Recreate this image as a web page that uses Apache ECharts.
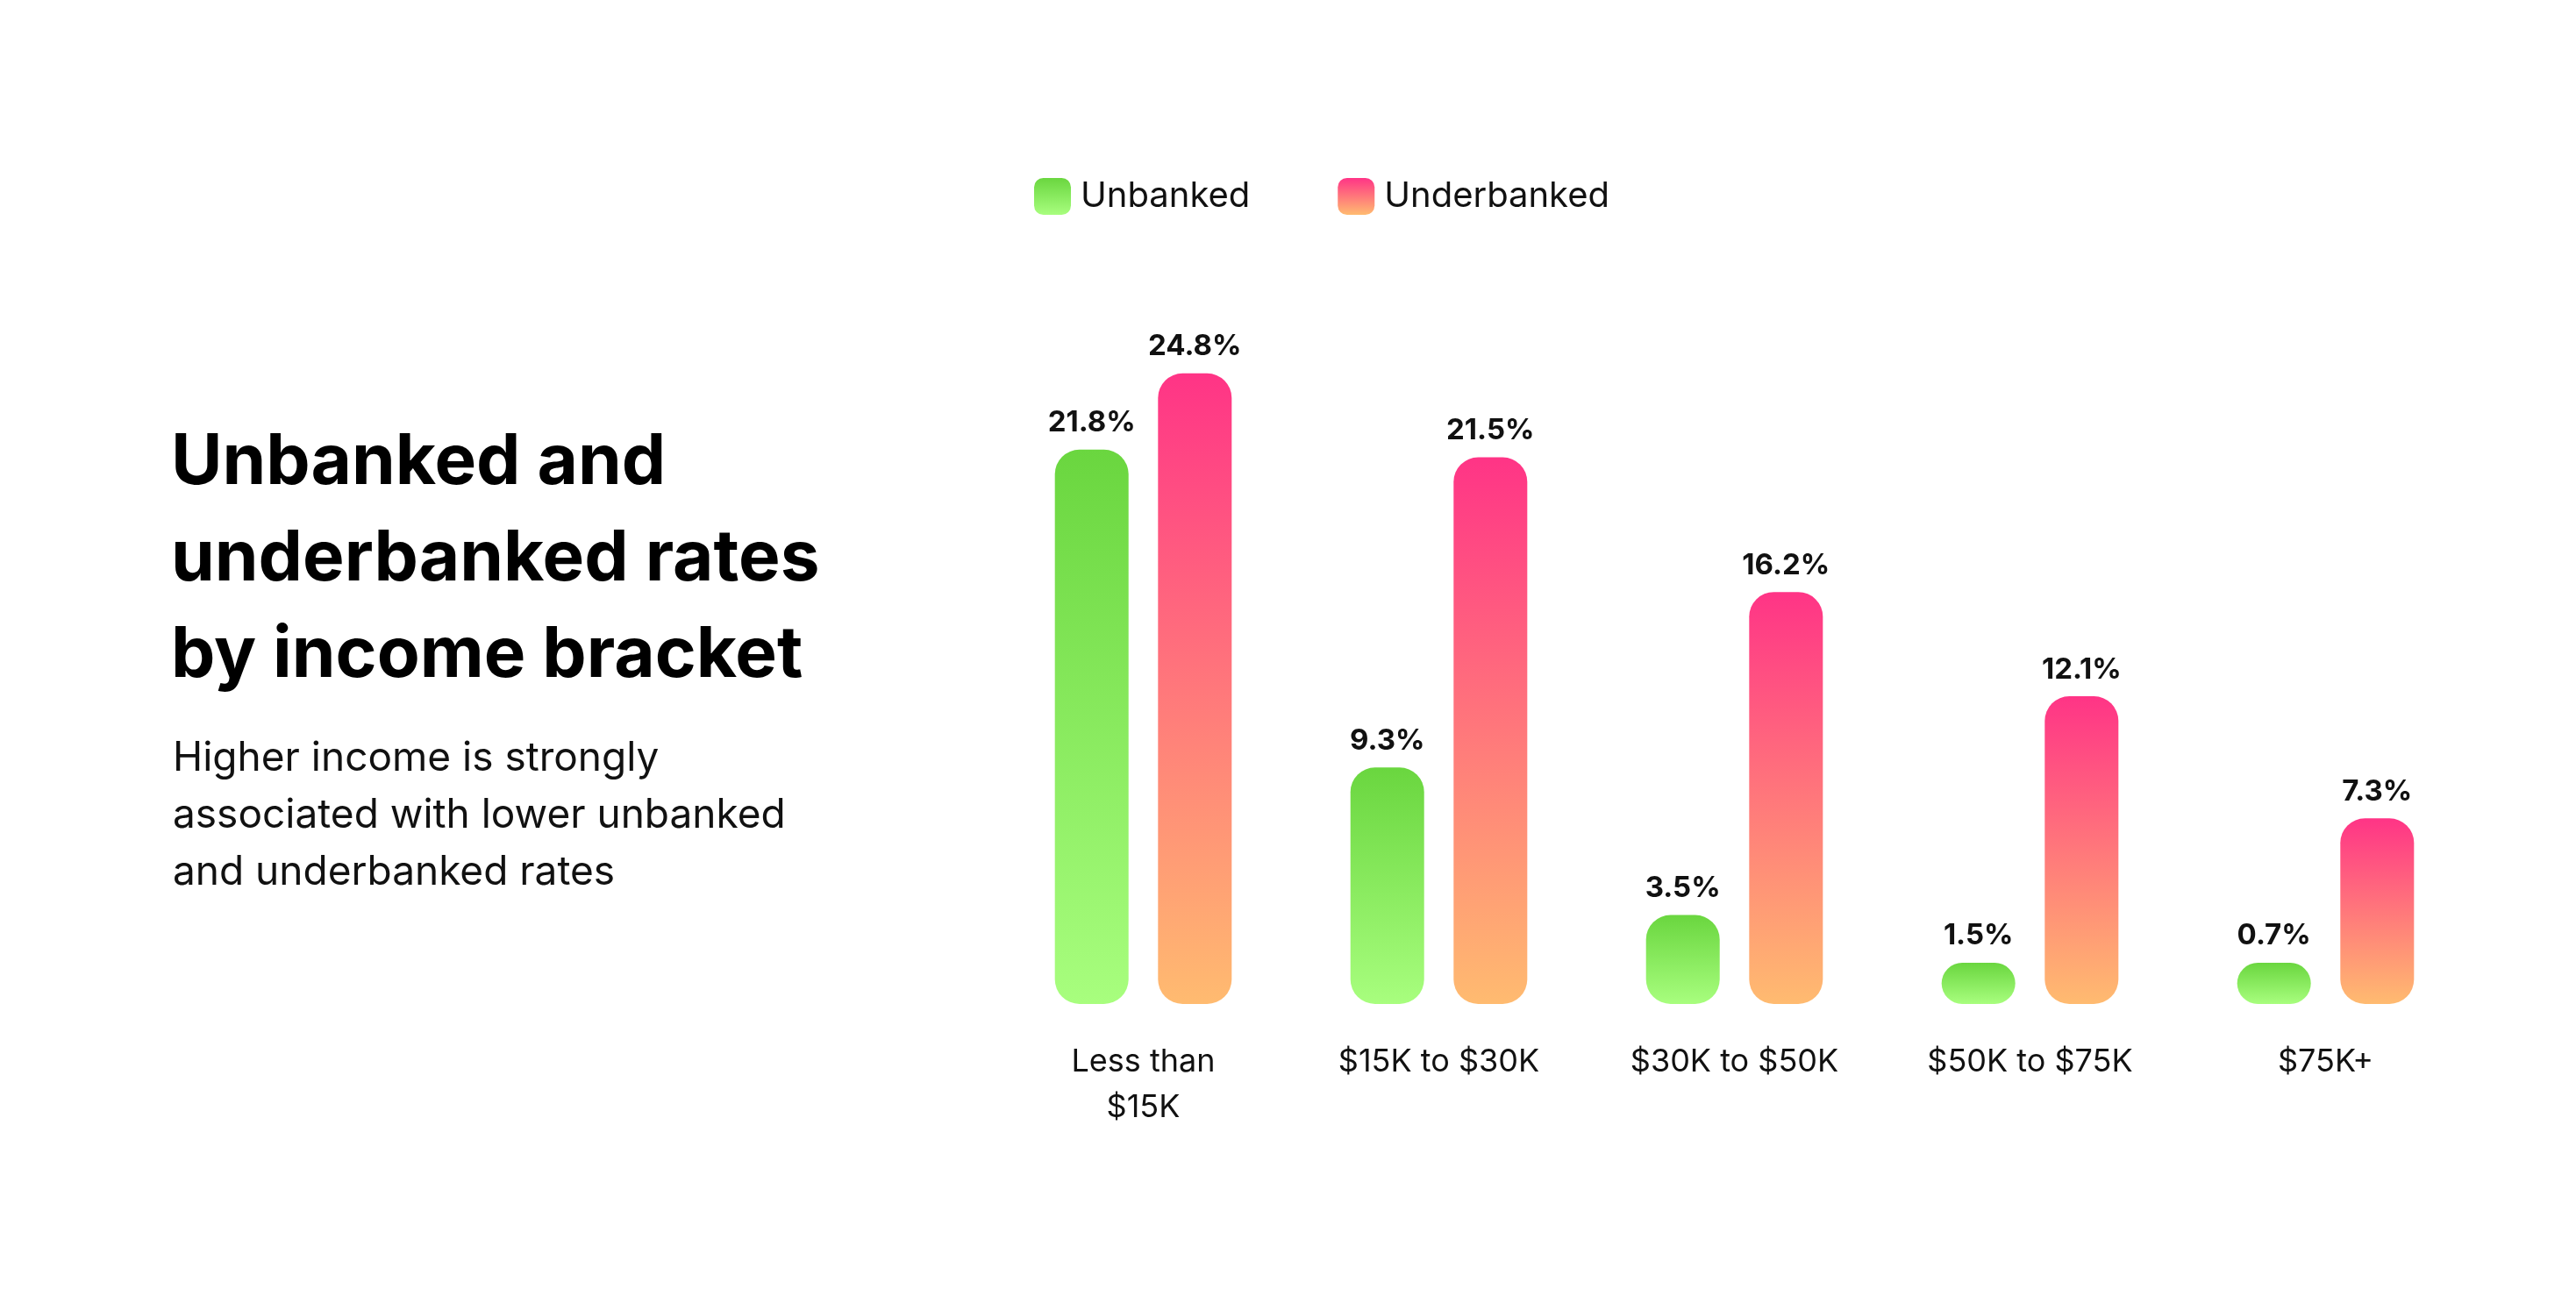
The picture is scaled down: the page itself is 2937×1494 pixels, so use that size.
<!DOCTYPE html>
<html><head><meta charset="utf-8">
<script src="https://cdn.jsdelivr.net/npm/echarts@6/dist/echarts.min.js"></script>
<style>html,body{margin:0;background:#fff}#c{width:2937px;height:1494px}</style>
</head><body><div id="c"></div>
<script>
const categories = ['Less than\n$15K', '$15K to $30K', '$30K to $50K', '$50K to $75K', '$75K+'];
const unbanked = [21.8, 9.3, 3.5, 1.5, 0.7];
const underbanked = [24.8, 21.5, 16.2, 12.1, 7.3];
const F = 'Inter, "Noto Sans", sans-serif';
const grad = (t, b) => new echarts.graphic.LinearGradient(0, 0, 0, 1, [{offset: 0, color: t}, {offset: 1, color: b}]);
const green = grad('#6ad63f', '#a8fe7e');
const pink = grad('#ff3486', '#ffbb70');
const lbl = {show: true, position: 'top', distance: 14, fontFamily: F, fontWeight: 'bold', fontSize: 33, color: '#111', formatter: p => p.value + '%'};
const chart = echarts.init(document.getElementById('c'));
chart.setOption({
  backgroundColor: '#fff',
  title: [
    {text: 'Unbanked and\nunderbanked rates\nby income bracket', left: 190, top: 468,
     textStyle: {fontFamily: F, fontWeight: 'bold', fontSize: 80, lineHeight: 110, color: '#000'}},
    {text: 'Higher income is strongly\nassociated with lower unbanked\nand underbanked rates', left: 192, top: 828,
     textStyle: {fontFamily: F, fontWeight: 'normal', fontSize: 46, lineHeight: 65, color: '#111'}}
  ],
  legend: {top: 198, left: 1174, itemWidth: 42, itemHeight: 42, itemGap: 100, icon: 'roundRect',
    textStyle: {fontFamily: F, fontSize: 40, color: '#111', padding: [0, 0, 0, 6]},
    data: [{name: 'Unbanked', itemStyle: {color: green}}, {name: 'Underbanked', itemStyle: {color: pink}}]},
  grid: {left: 1135, right: 117, top: 275, bottom: 349},
  xAxis: {type: 'category', data: categories, axisLine: {show: false}, axisTick: {show: false},
    axisLabel: {margin: 40, fontFamily: F, fontSize: 36, color: '#111', lineHeight: 52}},
  yAxis: {type: 'value', min: 0, max: 30, show: false, splitLine: {show: false}},
  series: [
    {name: 'Unbanked', type: 'bar', data: unbanked, barWidth: 84, barGap: '40%', barMinHeight: 47,
     itemStyle: {color: green, borderRadius: 28}, label: lbl},
    {name: 'Underbanked', type: 'bar', data: underbanked, barWidth: 84, barMinHeight: 47,
     itemStyle: {color: pink, borderRadius: 28}, label: lbl}
  ]
});
</script></body></html>
